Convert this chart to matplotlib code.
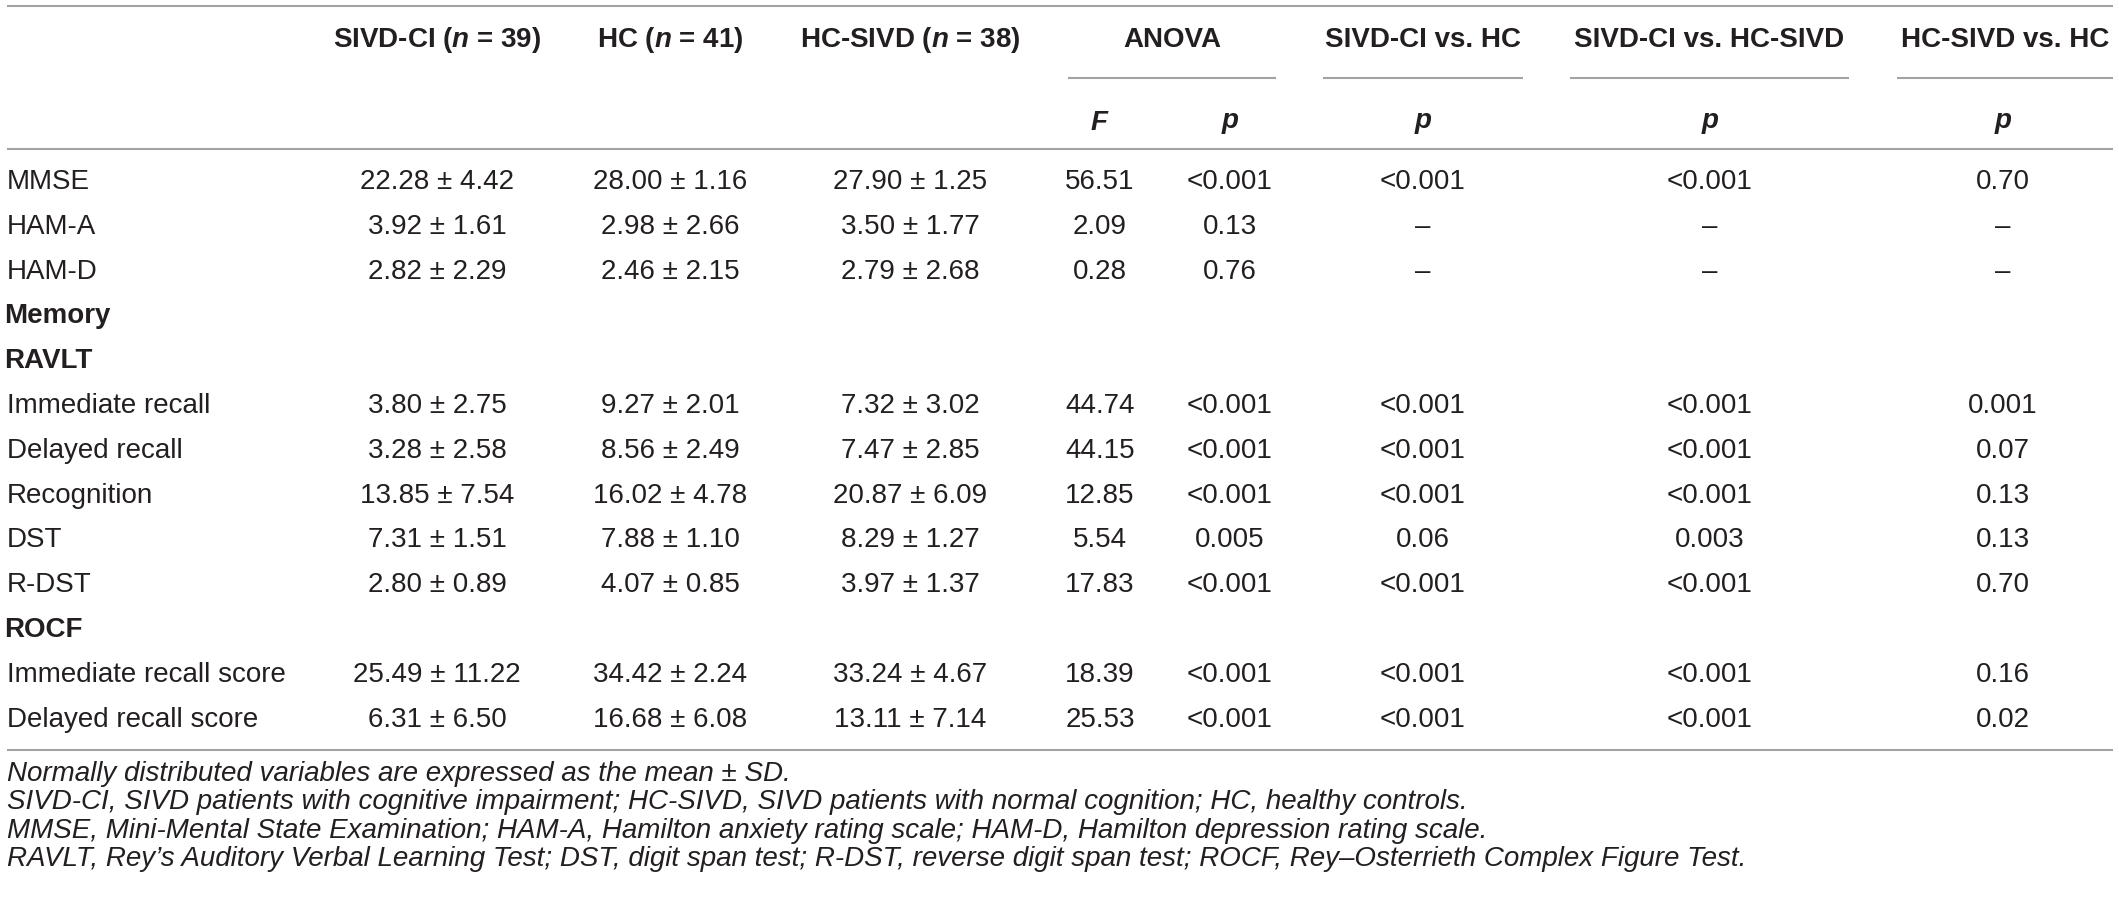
import matplotlib
matplotlib.use('Agg')
import matplotlib.pyplot as plt

plt.rcParams['font.family'] = ['Liberation Sans', 'DejaVu Sans']
plt.rcParams['mathtext.fontset'] = 'custom'
plt.rcParams['mathtext.it'] = 'Liberation Sans:italic:bold'
plt.rcParams['mathtext.rm'] = 'Liberation Sans:bold'
plt.rcParams['mathtext.bf'] = 'Liberation Sans:bold'

# table content
row_labels = ["MMSE", "HAM-A", "HAM-D", "Memory", "RAVLT", "Immediate recall",
              "Delayed recall", "Recognition", "DST", "R-DST", "ROCF",
              "Immediate recall score", "Delayed recall score"]
section_rows = ["Memory", "RAVLT", "ROCF"]

sivd_ci = ["22.28 ± 4.42", "3.92 ± 1.61", "2.82 ± 2.29", "", "", "3.80 ± 2.75",
           "3.28 ± 2.58", "13.85 ± 7.54", "7.31 ± 1.51", "2.80 ± 0.89", "",
           "25.49 ± 11.22", "6.31 ± 6.50"]
hc = ["28.00 ± 1.16", "2.98 ± 2.66", "2.46 ± 2.15", "", "", "9.27 ± 2.01",
      "8.56 ± 2.49", "16.02 ± 4.78", "7.88 ± 1.10", "4.07 ± 0.85", "",
      "34.42 ± 2.24", "16.68 ± 6.08"]
hc_sivd = ["27.90 ± 1.25", "3.50 ± 1.77", "2.79 ± 2.68", "", "", "7.32 ± 3.02",
           "7.47 ± 2.85", "20.87 ± 6.09", "8.29 ± 1.27", "3.97 ± 1.37", "",
           "33.24 ± 4.67", "13.11 ± 7.14"]
anova_f = ["56.51", "2.09", "0.28", "", "", "44.74", "44.15", "12.85", "5.54",
           "17.83", "", "18.39", "25.53"]
anova_p = ["<0.001", "0.13", "0.76", "", "", "<0.001", "<0.001", "<0.001",
           "0.005", "<0.001", "", "<0.001", "<0.001"]
p_ci_vs_hc = ["<0.001", "–", "–", "", "", "<0.001", "<0.001", "<0.001", "0.06",
              "<0.001", "", "<0.001", "<0.001"]
p_ci_vs_hcsivd = ["<0.001", "–", "–", "", "", "<0.001", "<0.001", "<0.001",
                  "0.003", "<0.001", "", "<0.001", "<0.001"]
p_hcsivd_vs_hc = ["0.70", "–", "–", "", "", "0.001", "0.07", "0.13", "0.13",
                  "0.70", "", "0.16", "0.02"]

group_headers = ["SIVD-CI ($n$ = 39)", "HC ($n$ = 41)", "HC-SIVD ($n$ = 38)"]
test_headers = ["ANOVA", "SIVD-CI vs. HC", "SIVD-CI vs. HC-SIVD", "HC-SIVD vs. HC"]
sub_headers = ["$F$", "$p$", "$p$", "$p$", "$p$"]

footnotes = [
    "Normally distributed variables are expressed as the mean ± SD.",
    "SIVD-CI, SIVD patients with cognitive impairment; HC-SIVD, SIVD patients with normal cognition; HC, healthy controls.",
    "MMSE, Mini-Mental State Examination; HAM-A, Hamilton anxiety rating scale; HAM-D, Hamilton depression rating scale.",
    "RAVLT, Rey’s Auditory Verbal Learning Test; DST, digit span test; R-DST, reverse digit span test; ROCF, Rey–Osterrieth Complex Figure Test.",
]

# layout (pixel coordinates)
W, H = 2119, 909
txt_col = '#231f20'
line_col = '#a3a3a3'
fs = 20
group_x = [437, 670, 910]
value_x = [437, 670, 910, 1100, 1230, 1423, 1710, 2003]
spans = [(1068, 1276), (1323, 1523), (1570, 1849), (1897, 2113)]
sub_x = [1100, 1230, 1423, 1710, 2003]
row_y0, row_step = 182, 44.8

fig = plt.figure(figsize=(W / 100, H / 100), dpi=100)
ax = fig.add_axes([0, 0, 1, 1])
ax.set_xlim(0, W)
ax.set_ylim(H, 0)
ax.axis('off')

# rules
for y in [6, 149, 750]:
    ax.hlines(y, 7, 2113, color=line_col, lw=1.5)
for x0, x1 in spans:
    ax.hlines(78, x0, x1, color=line_col, lw=1.5)

# header
for x, t in zip(group_x, group_headers):
    ax.text(x, 40, t, ha='center', va='center', fontsize=fs, fontweight='bold', color=txt_col)
for (x0, x1), t in zip(spans, test_headers):
    ax.text((x0 + x1) / 2, 40, t, ha='center', va='center', fontsize=fs, fontweight='bold', color=txt_col)
for x, t in zip(sub_x, sub_headers):
    ax.text(x, 123, t, ha='center', va='center', fontsize=fs, color=txt_col)

# body
columns = [sivd_ci, hc, hc_sivd, anova_f, anova_p, p_ci_vs_hc, p_ci_vs_hcsivd, p_hcsivd_vs_hc]
for i, lab in enumerate(row_labels):
    y = row_y0 + i * row_step
    if lab in section_rows:
        ax.text(4, y, lab, ha='left', va='center', fontsize=fs, fontweight='bold', color=txt_col)
    else:
        ax.text(7, y, lab, ha='left', va='center', fontsize=fs, color=txt_col)
    for x, col in zip(value_x, columns):
        if col[i]:
            ax.text(x, y, col[i], ha='center', va='center', fontsize=fs, color=txt_col)

# footnotes
for j, note in enumerate(footnotes):
    ax.text(7, 774 + j * 28.3, note, ha='left', va='center', fontsize=20,
            fontstyle='italic', color=txt_col)

fig.savefig('out.png', dpi=100, facecolor='white')
